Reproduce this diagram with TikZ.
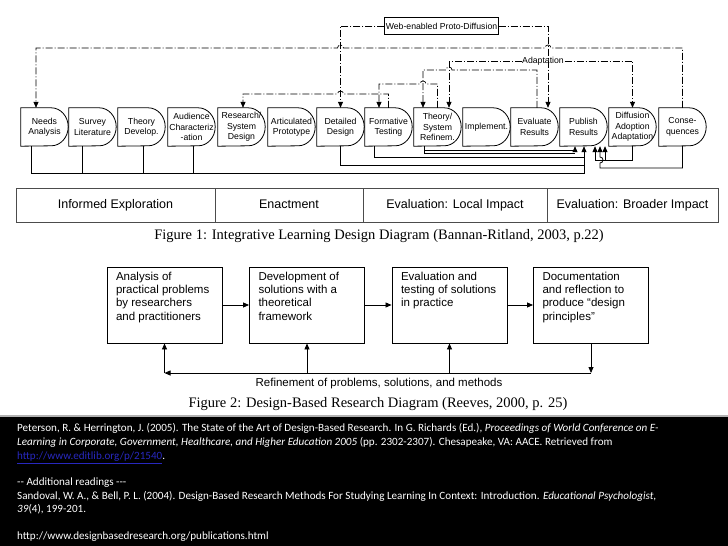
\documentclass[tikz,border=0pt]{standalone}
\usepackage{fontspec}
\setmainfont{Liberation Sans}
\newfontfamily\timesf{Liberation Serif}
\newfontfamily\calf{Carlito}
\usetikzlibrary{arrows.meta}
\definecolor{linkblue}{RGB}{40,40,190}
\begin{document}
\begin{tikzpicture}[x=1pt,y=-1pt,
 dbox/.style={minimum width=47pt,minimum height=38pt,inner sep=0pt,align=center,font=\fontsize{8.7}{10.3}\selectfont},
 outl/.style={draw=black,line width=0.8pt},
 conn/.style={draw=black,line width=0.8pt},
 dd/.style={draw=black,line width=0.7pt,dash pattern=on 7pt off 2pt on 1pt off 2pt},
 tip/.style={-{Triangle[length=6pt,width=5pt]}},
 fbox/.style={draw=black,line width=0.9pt,inner xsep=9pt,inner ysep=5pt,font=\fontsize{11.5}{13.3}\selectfont},
 cell/.style={font=\fontsize{12.5}{14}\selectfont,draw=black!70,line width=1pt,minimum height=34pt,inner sep=0pt,text height=9pt,text depth=2.5pt},
 capt/.style={font=\timesf\fontsize{14.5}{16}\selectfont},
 refline/.style={anchor=base west,inner sep=0pt,text=white,font=\calf\fontsize{11.1}{13}\selectfont},
]
\useasboundingbox (0,0) rectangle (728,546);
\fill[white] (0,0) rectangle (728,546);

% ---------- Figure 1 boxes
\node[dbox] (b1) at (44.5,127) {Needs\\Analysis};
\node[dbox] (b2) at (92.5,127) {Survey\\Literature};
\node[dbox] (b3) at (141.5,127) {Theory\\Develop.};
\node[dbox] (b4) at (191.5,127) {Audience\\Characteriz\\-ation};
\node[dbox] (b5) at (241.5,127) {Research/\\System\\Design};
\node[dbox] (b6) at (291.5,127) {Articulated\\Prototype};
\node[dbox] (b7) at (340.5,127) {Detailed\\Design};
\node[dbox] (b8) at (388.5,127) {Formative\\Testing};
\node[dbox] (b9) at (437.5,127) {Theory/\\System\\Refinem.};
\node[dbox] (b10) at (486.5,127) {Implement.};
\node[dbox] (b11) at (534.5,127) {Evaluate\\Results};
\node[dbox] (b12) at (583.5,127) {Publish\\Results};
\node[dbox] (b13) at (632.5,127) {Diffusion\\Adoption\\Adaptation};
\node[dbox] (b14) at (682.5,127) {Conse-\\quences};
\foreach \n in {b1,b2,b3,b4,b5,b6,b7,b8,b9,b10,b11,b12,b13,b14}
  \draw[outl] (\n.north west) -- ([xshift=-17pt]\n.north east) arc[start angle=90,end angle=-90,x radius=17pt,y radius=19pt] -- (\n.south west) -- cycle;

% ---------- dash-dot connectors above
\node[draw,line width=0.7pt,inner xsep=1pt,minimum height=17pt,font=\fontsize{8.7}{10}\selectfont] (web) at (441.5,26) {Web-enabled Proto-Diffusion};
\draw[dd,tip] (web.west) -- (340.5,26) -- (b7.north);
\draw[dd,tip] (web.east) -- (548,26) -- ([xshift=13.5pt]b11.north);

\draw[dd,tip] (b14.north) -- (682.5,48) -- (551,48) arc[start angle=0,end angle=180,radius=3pt] -- (343.5,48) arc[start angle=0,end angle=180,radius=3pt] -- (36,48) -- ([xshift=-8.5pt]b1.north);

\node[inner sep=0.5pt,font=\fontsize{8.7}{10}\selectfont] (adl) at (543,61) {Adaptation};
\draw[dd,tip] (adl.west) -- (449,61) -- ([xshift=11.5pt]b9.north);
\draw[dd,tip] (adl.east) -- (632.5,61) -- (b13.north);

\draw[dd,tip] ([xshift=2.5pt]b11.north) -- (537,70) -- (452,70) arc[start angle=0,end angle=180,radius=3pt] -- (423,70) -- ([xshift=-14.5pt]b9.north);
\draw[dd,tip] (b9.north) -- (437.5,84) -- (426,84) arc[start angle=0,end angle=180,radius=3pt] -- (379,84) -- ([xshift=-9.5pt]b8.north);
\draw[dd,tip] (b8.north) -- (388.5,94) -- (343.5,94) arc[start angle=0,end angle=180,radius=3pt] -- (243,94) -- ([xshift=1.5pt]b5.north);

% ---------- solid connectors below
\draw[conn,tip] ([xshift=-13.5pt]b1.south) -- (31,173) -- (584,173) -- ([xshift=0.5pt]b12.south);
\draw[conn] ([xshift=-10.5pt]b2.south) -- (82,173);
\draw[conn] ([xshift=1.5pt]b3.south) -- (143,173);
\draw[conn] ([xshift=1.5pt]b4.south) -- (193,173);
\draw[conn] (b7.south) -- (340.5,165) -- (584,165);
\draw[conn] ([xshift=-14.5pt]b8.south) -- (374,157) -- (584,157);
\draw[conn,tip] ([xshift=-13.5pt]b9.south) -- (424,150) -- (575,150) -- ([xshift=-8.5pt]b12.south);
\draw[conn] (424,150) -- (424,153.5) -- (575,153.5);
\draw[conn,tip] (b13.south) -- (632.5,160) -- (595,160) -- ([xshift=11.5pt]b12.south);
\draw[conn,tip] (605,160) -- ([xshift=21.5pt]b12.south);
\draw[conn,tip] (b14.south) -- (682.5,168) -- (600,168) -- (600,163) arc[start angle=-90,end angle=90,radius=3pt] -- ([xshift=16.5pt]b12.south);

% ---------- table
\node[cell,minimum width=199pt] (t1) at (115.5,205) {Informed Exploration};
\node[cell,minimum width=148pt] (t2) at (289,205) {Enactment};
\node[cell,minimum width=184pt] (t3) at (455,205) {Evaluation: Local Impact};
\node[cell,minimum width=171pt] (t4) at (632.5,205) {Evaluation: Broader Impact};

\node[capt] (c1) at (379,236) {Figure 1: Integrative Learning Design Diagram (Bannan-Ritland, 2003, p.22)};

% ---------- Figure 2
\node[fbox] (f1) at (164.5,305) {\parbox[t][66pt][t]{97pt}{\raggedright Analysis of\\practical problems\\by researchers\\and practitioners}};
\node[fbox] (f2) at (307,305) {\parbox[t][66pt][t]{97pt}{\raggedright Development of\\solutions with a\\theoretical\\framework}};
\node[fbox] (f3) at (449.5,305) {\parbox[t][66pt][t]{97pt}{\raggedright Evaluation and\\testing of solutions\\in practice}};
\node[fbox] (f4) at (591,305) {\parbox[t][66pt][t]{97pt}{\raggedright Documentation\\and reflection to\\produce “design\\principles”}};
\draw[conn,tip] (f1) -- (f2);
\draw[conn,tip] (f2) -- (f3);
\draw[conn,tip] (f3) -- (f4);
\coordinate (fr) at (591,373);
\coordinate (fl) at (164.5,373);
\draw[conn,tip] (f4.south) -- (fr);
\draw[conn,tip] (fr) -- (fl);
\draw[conn,tip] (fl) -- (f1.south);
\draw[conn,tip] (f2.south |- fl) -- (f2.south);
\draw[conn,tip] (f3.south |- fl) -- (f3.south);
\node[font=\fontsize{11.5}{13}\selectfont] (rl) at (379,384) {Refinement of problems, solutions, and methods};

\node[capt] (c2) at (378,404) {Figure 2: Design-Based Research Diagram (Reeves, 2000, p. 25)};

% ---------- references
\fill[black] (0,416) rectangle (728,546);
\draw[black!30,line width=1.5pt] (0,416) -- (728,416);
\node[refline] (r1) at (17,431.5) {Peterson, R. \& Herrington, J. (2005). The State of the Art of Design-Based Research. In G. Richards (Ed.), \textit{Proceedings of World Conference on E-}};
\node[refline] (r2) at (17,445.5) {\textit{Learning in Corporate, Government, Healthcare, and Higher Education 2005} (pp. 2302-2307). Chesapeake, VA: AACE. Retrieved from};
\node[refline] (r3) at (17,459.5) {\textcolor{linkblue}{\underline{http://www.editlib.org/p/21540}}.};
\node[refline] (r4) at (17,485.5) {-{}- Additional readings -{}-{}-};
\node[refline] (r5) at (17,499.5) {Sandoval, W. A., \& Bell, P. L. (2004). Design-Based Research Methods For Studying Learning In Context: Introduction. \textit{Educational Psychologist,}};
\node[refline] (r6) at (17,512.5) {\textit{39}(4), 199-201.};
\node[refline] (r7) at (17,539.5) {http://www.designbasedresearch.org/publications.html};
\end{tikzpicture}
\end{document}
